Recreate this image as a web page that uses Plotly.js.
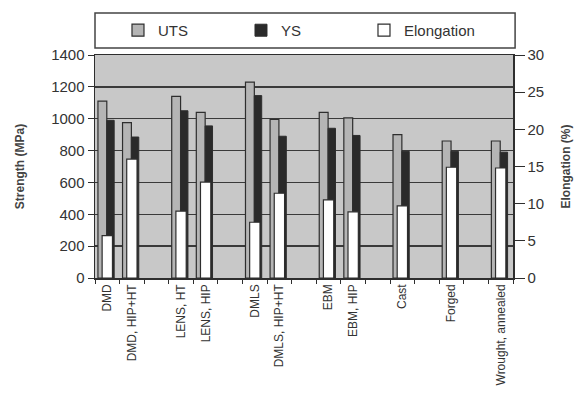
<!DOCTYPE html>
<html>
<head>
<meta charset="utf-8">
<script src="https://cdn.plot.ly/plotly-3.0.1.min.js"></script>
<style>html,body{margin:0;padding:0;background:#fff;}#chart{width:578px;height:409px;}</style>
</head>
<body>
<div id="chart"></div>
<script>
// ---- data ----
const categories = ['DMD', 'DMD, HIP+HT', 'LENS, HT', 'LENS, HIP', 'DMLS', 'DMLS, HIP+HT', 'EBM', 'EBM, HIP', 'Cast', 'Forged', 'Wrought, annealed'];
const uts = [1110, 975, 1140, 1040, 1230, 995, 1040, 1005, 900, 860, 860];
const ys = [990, 885, 1050, 955, 1145, 890, 940, 895, 795, 795, 790];
const elongation = [5.7, 16.0, 9.0, 12.9, 7.5, 11.4, 10.5, 8.9, 9.7, 14.9, 14.8];

// ---- layout: blank slots inserted after these category indices ----
const gapAfter = [1, 3, 5, 7, 8, 9];
const categoryOrder = [];
let spacer = ' ';
categories.forEach(function (c, i) {
  categoryOrder.push(c);
  if (gapAfter.indexOf(i) >= 0) { categoryOrder.push(spacer); spacer += ' '; }
});

const font = 'Liberation Sans, Arial, sans-serif';
const dark = '#2e2e2e';

const traces = [
  {type: 'bar', name: 'UTS', x: categories, y: uts, yaxis: 'y',
   width: 0.36, offset: -0.38,
   marker: {color: '#b5b5b5', line: {color: dark, width: 1.2}}},
  {type: 'bar', name: 'YS', x: categories, y: ys, yaxis: 'y',
   width: 0.3, offset: -0.02,
   marker: {color: '#2a2a2a', line: {color: dark, width: 1}}},
  {type: 'bar', name: 'Elongation', x: categories, y: elongation, yaxis: 'y2',
   width: 0.42, offset: -0.21,
   marker: {color: '#ffffff', line: {color: dark, width: 1.2}}}
];

const layout = {
  width: 578, height: 409,
  margin: {l: 95, r: 65, t: 55, b: 131},
  paper_bgcolor: '#ffffff',
  plot_bgcolor: '#c8c8c8',
  barmode: 'overlay',
  font: {family: font, color: '#333', size: 14},
  showlegend: true,
  legend: {orientation: 'h', x: 0.055, xanchor: 'left', y: 1.11, yanchor: 'middle',
           bgcolor: 'rgba(0,0,0,0)', borderwidth: 0, itemwidth: 30,
           entrywidth: 78, entrywidthmode: 'pixels',
           font: {family: font, size: 15, color: '#333'}},
  shapes: [{type: 'rect', xref: 'paper', yref: 'paper', x0: 0, x1: 1.005, y0: 1.031, y1: 1.188,
            line: {color: '#444', width: 1.5}, fillcolor: 'rgba(0,0,0,0)', layer: 'below'}],
  xaxis: {type: 'category', categoryorder: 'array', categoryarray: categoryOrder,
          range: [-0.5, categoryOrder.length - 0.5],
          tickson: 'boundaries', ticks: 'outside', ticklen: 4, tickcolor: dark,
          tickangle: -90, tickfont: {family: font, size: 12, color: '#333'},
          showline: true, linecolor: dark, linewidth: 1.5, mirror: true,
          showgrid: false, fixedrange: true},
  yaxis: {range: [0, 1400], dtick: 200, tick0: 0,
          ticks: 'outside', ticklen: 6, tickcolor: dark,
          showgrid: true, gridcolor: '#3a3a3a', gridwidth: 1.5,
          showline: true, linecolor: dark, linewidth: 1.5,
          zeroline: false,
          tickfont: {family: font, size: 15, color: '#333'},
          title: {text: 'Strength (MPa)', font: {family: font, size: 12, color: '#444', weight: 'bold'}, standoff: 24}},
  yaxis2: {range: [0, 30], dtick: 5, tick0: 0, overlaying: 'y', side: 'right',
           ticks: 'outside', ticklen: 10, tickcolor: dark,
           showgrid: false, zeroline: false,
           showline: true, linecolor: dark, linewidth: 1.5,
           tickfont: {family: font, size: 15, color: '#333'},
           title: {text: 'Elongation (%)', font: {family: font, size: 12, color: '#444', weight: 'bold'}, standoff: 18}}
};

Plotly.newPlot('chart', traces, layout, {displayModeBar: false, staticPlot: true});
</script>
</body>
</html>
